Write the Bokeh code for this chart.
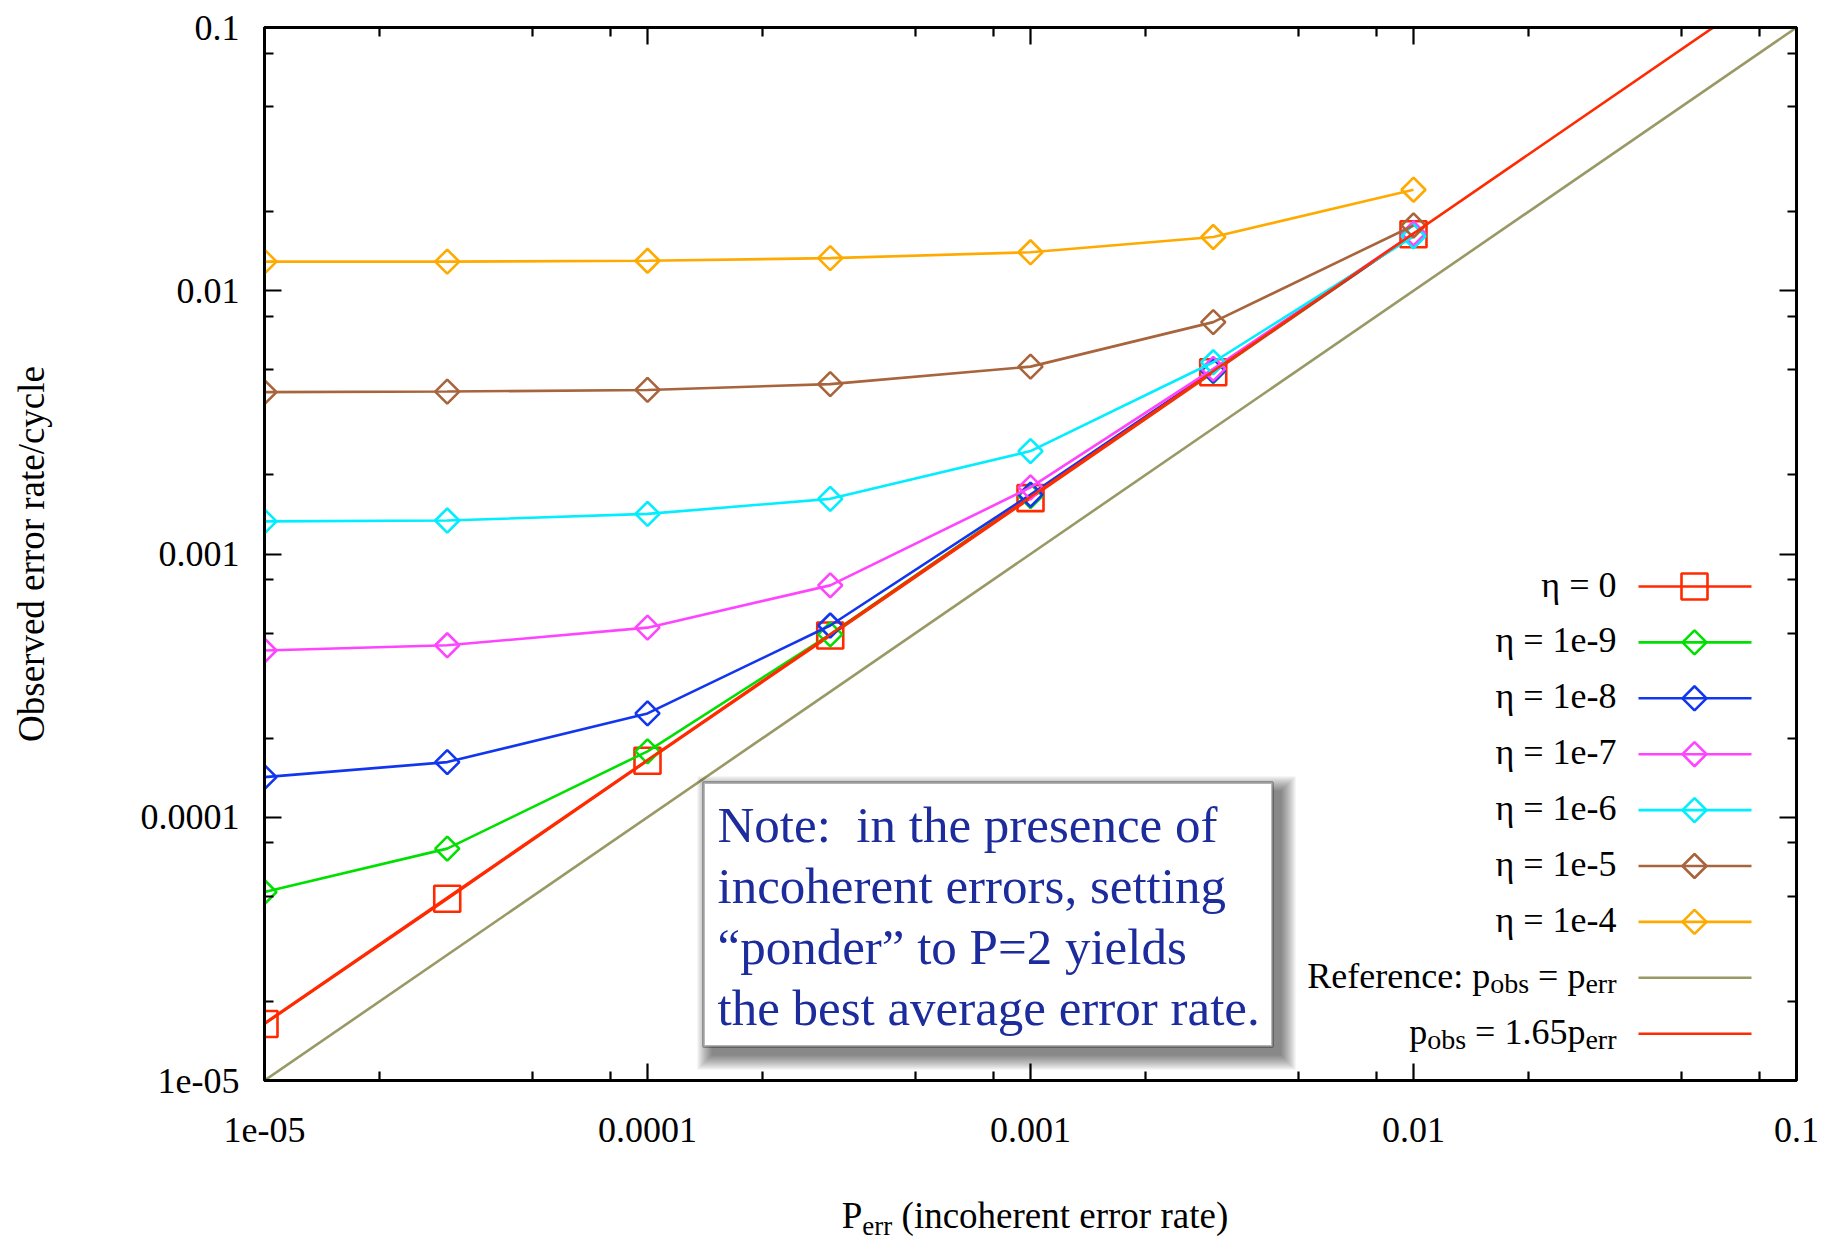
import math
from bokeh.plotting import figure
from bokeh.layouts import column
from bokeh.models import FixedTicker, LogAxis, Label, BoxAnnotation, Range1d, CustomJSTickFormatter, Div
from bokeh.embed import file_html
from bokeh.resources import INLINE

# ---------------- data ----------------
p_err = [1e-5, 3e-5, 1e-4, 3e-4, 1e-3, 3e-3, 1e-2]
eta_0 = [1.64e-5, 4.9e-5, 1.64e-4, 4.9e-4, 1.63e-3, 4.9e-3, 1.64e-2]
eta_1e9 = [5.2e-5, 7.6e-5, 1.78e-4, 4.95e-4, 1.66e-3, 4.95e-3, 1.64e-2]
eta_1e8 = [1.42e-4, 1.62e-4, 2.48e-4, 5.35e-4, 1.68e-3, 4.97e-3, 1.64e-2]
eta_1e7 = [4.3e-4, 4.5e-4, 5.25e-4, 7.6e-4, 1.79e-3, 5.05e-3, 1.65e-2]
eta_1e6 = [1.33e-3, 1.34e-3, 1.42e-3, 1.62e-3, 2.46e-3, 5.35e-3, 1.61e-2]
eta_1e5 = [4.12e-3, 4.14e-3, 4.2e-3, 4.42e-3, 5.15e-3, 7.6e-3, 1.77e-2]
eta_1e4 = [1.29e-2, 1.29e-2, 1.30e-2, 1.33e-2, 1.40e-2, 1.6e-2, 2.42e-2]

series_values = [eta_0, eta_1e9, eta_1e8, eta_1e7, eta_1e6, eta_1e5, eta_1e4]
series_labels = ["η = 0", "η = 1e-9", "η = 1e-8", "η = 1e-7", "η = 1e-6", "η = 1e-5", "η = 1e-4"]
series_colors = ["#ff2a00", "#00e000", "#1236ee", "#ff44ff", "#00eeff", "#a8643c", "#ffaa00"]
series_markers = ["box", "diamond", "diamond", "diamond", "diamond", "diamond", "diamond"]

ref_x = [1e-5, 0.1]
fit_factor = 1.65
ref_color = "#999966"
fit_color = "#ff2a00"

major_ticks = [1e-5, 1e-4, 1e-3, 1e-2, 1e-1]
major_tick_labels = ["1e-05", "0.0001", "0.001", "0.01", "0.1"]
minor_multipliers = [2, 5, 8]

note_lines = ["Note:\u00a0 in the presence of",
              "incoherent errors, setting",
              "\u201cponder\u201d to P=2 yields",
              "the best average error rate."]

# ---------------- layout (canvas pixels) ----------------
FONT = "Liberation Serif"
FRAME_L, FRAME_T, FRAME_W, FRAME_H = 264, 27, 1532, 1053
X0, X1 = -5.0, -1.0
Y0, Y1 = -5.0, -1.0
FIG_H = 1189
DIV_H = 1241 - FIG_H


def px_x(px):
    return 10 ** (X0 + (px - FRAME_L) / FRAME_W * (X1 - X0))


def px_y(py):
    return 10 ** (Y1 - (py - FRAME_T) / FRAME_H * (Y1 - Y0))


CW = {" ": 250, "\u00a0": 250, "(": 333, ")": 333, ".": 250, ":": 278, "=": 564, "R": 667,
      "P": 556, "a": 444, "b": 500, "c": 444, "e": 444, "f": 333, "h": 500, "i": 278,
      "l": 278, "n": 500, "o": 500, "p": 500, "r": 333, "s": 389, "t": 278, "y": 500,
      "d": 500, "g": 500, "v": 500}


def tw(s, size):
    return sum(CW.get(ch, 500) for ch in s) / 1000.0 * size


p = figure(x_axis_type="log", y_axis_type="log",
           x_range=Range1d(10 ** X0, 10 ** X1), y_range=Range1d(10 ** Y0, 10 ** Y1),
           frame_width=FRAME_W, frame_height=FRAME_H,
           min_border_left=FRAME_L, min_border_right=1823 - FRAME_L - FRAME_W,
           min_border_top=FRAME_T, min_border_bottom=FIG_H - FRAME_T - FRAME_H,
           output_backend="svg", toolbar_location=None,
           background_fill_color="white", border_fill_color="white")
p.grid.visible = False
p.outline_line_color = "black"
p.outline_line_width = 2.8

minor_ticks = [m * t for t in major_ticks[:-1] for m in minor_multipliers]


def style_axis(ax, labels=True):
    ax.ticker = FixedTicker(ticks=major_ticks, minor_ticks=minor_ticks)
    ax.major_tick_in = 17
    ax.major_tick_out = 0
    ax.minor_tick_in = 9
    ax.minor_tick_out = 0
    ax.major_tick_line_width = 2.2
    ax.minor_tick_line_width = 2.2
    ax.axis_line_width = 2.8
    ax.axis_line_color = "black"
    ax.major_tick_line_color = "black"
    ax.minor_tick_line_color = "black"
    if labels:
        ax.major_label_overrides = dict(zip(major_ticks, major_tick_labels))
        ax.major_label_text_font = FONT
        ax.major_label_text_font_size = "36px"
        ax.major_label_text_color = "black"
    else:
        ax.formatter = CustomJSTickFormatter(code="return ''")
        ax.major_label_text_font_size = "1px"
        ax.major_label_standoff = 0


style_axis(p.xaxis[0])
style_axis(p.yaxis[0])
p.xaxis[0].major_label_standoff = 37
p.yaxis[0].major_label_standoff = 25

p.yaxis[0].axis_label = "Observed error rate/cycle"
p.yaxis[0].axis_label_text_font = FONT
p.yaxis[0].axis_label_text_font_size = "37px"
p.yaxis[0].axis_label_text_font_style = "normal"
p.yaxis[0].axis_label_text_color = "black"
p.yaxis[0].axis_label_standoff = 86

ax_r = LogAxis()
ax_t = LogAxis()
style_axis(ax_r, labels=False)
style_axis(ax_t, labels=False)
p.add_layout(ax_r, "right")
p.add_layout(ax_t, "above")

LW = 2.6
# ---------------- series ----------------
for vals, col, mk in zip(series_values, series_colors, series_markers):
    p.line(p_err, vals, line_color=col, line_width=LW)
    if mk == "box":
        p.scatter(p_err, vals, marker="square", size=26, fill_color=None,
                  line_color=col, line_width=LW)
    else:
        p.scatter(p_err, vals, marker="square", size=17, angle=math.pi / 4,
                  fill_color=None, line_color=col, line_width=LW)

p.line(ref_x, ref_x, line_color=ref_color, line_width=LW)
p.line(ref_x, [fit_factor * v for v in ref_x], line_color=fit_color, line_width=LW)

# ---------------- legend (manual, text left / sample right) ----------------
ROW0, ROW_STEP = 586, 55.9
SAMPLE_L, SAMPLE_R, SAMPLE_C = 1638, 1751, 1694
TEXT_R = 1616
LFS, SFS = 36, 28
BASE_DY = -2   # text baseline offset from the row centre line
SUB_DY = 8

for i, (lab, col, mk) in enumerate(zip(series_labels, series_colors, series_markers)):
    ry = ROW0 + ROW_STEP * i
    p.line([px_x(SAMPLE_L), px_x(SAMPLE_R)], [px_y(ry), px_y(ry)], line_color=col, line_width=LW)
    if mk == "box":
        p.scatter([px_x(SAMPLE_C)], [px_y(ry)], marker="square", size=26, fill_color=None,
                  line_color=col, line_width=LW)
    else:
        p.scatter([px_x(SAMPLE_C)], [px_y(ry)], marker="square", size=17, angle=math.pi / 4,
                  fill_color=None, line_color=col, line_width=LW)
    p.add_layout(Label(x=px_x(TEXT_R), y=px_y(ry + BASE_DY), text=lab, text_align="right",
                       text_baseline="alphabetic", text_font=FONT,
                       text_font_size=f"{LFS}px", text_color="black"))

extra_rows = [
    (["Reference:\u00a0p", "obs", "\u00a0=\u00a0p", "err"], ref_color),
    (["p", "obs", "\u00a0=\u00a01.65p", "err"], fit_color),
]
for j, (pieces, col) in enumerate(extra_rows):
    ry = ROW0 + ROW_STEP * (len(series_labels) + j)
    p.line([px_x(SAMPLE_L), px_x(SAMPLE_R)], [px_y(ry), px_y(ry)], line_color=col, line_width=LW)
    sizes = [SFS if k % 2 == 1 else LFS for k in range(len(pieces))]
    xl = TEXT_R - sum(tw(s, f) for s, f in zip(pieces, sizes))
    for k, (s, f) in enumerate(zip(pieces, sizes)):
        sub = (k % 2 == 1)
        p.add_layout(Label(x=px_x(xl), y=px_y(ry + BASE_DY + (SUB_DY if sub else 0)), text=s,
                           text_align="left", text_baseline="alphabetic", text_font=FONT,
                           text_font_size=f"{f}px", text_color="black"))
        xl += tw(s, f)

# ---------------- note box with shadow ----------------
BL, BR, BT, BB = 703, 1272, 782, 1046
for j in range(8):
    e = 2 * j
    p.add_layout(BoxAnnotation(left=px_x(BL + 8 - e), right=px_x(BR + 9 + e),
                               top=px_y(BT + 8 - e), bottom=px_y(BB + 9 + e),
                               fill_color="black", fill_alpha=0.075, line_color=None))
p.add_layout(BoxAnnotation(left=px_x(BL), right=px_x(BR), top=px_y(BT), bottom=px_y(BB),
                           fill_color="white", fill_alpha=1.0, line_color="black",
                           line_width=2.8))
NOTE_BASE0, NOTE_STEP = 824, 61
for i, t in enumerate(note_lines):
    p.add_layout(Label(x=px_x(717), y=px_y(NOTE_BASE0 + NOTE_STEP * i), text=t,
                       text_align="left", text_baseline="alphabetic", text_font=FONT,
                       text_font_size="51px", text_color="#1c2c9c"))

# ---------------- x-axis title (with subscript) ----------------
xlabel_html = (
    "<div style=\"width:%dpx;margin-left:%dpx;text-align:center;"
    "font-family:'Liberation Serif';font-size:37px;line-height:37px;padding-top:3px;"
    "color:black;white-space:nowrap;\">P<span style=\"font-size:27px;line-height:27px;"
    "position:relative;top:7px;\">err</span> (incoherent error rate)</div>" % (FRAME_W, FRAME_L)
)
xlabel = Div(text=xlabel_html, width=1823, height=DIV_H)

layout = column(p, xlabel, spacing=0)
open("out.html", "w").write(file_html(layout, INLINE))
